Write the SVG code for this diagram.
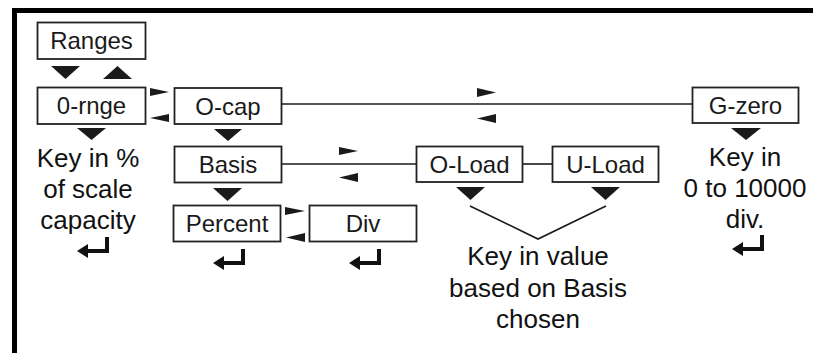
<svg xmlns="http://www.w3.org/2000/svg" width="813" height="353" viewBox="0 0 813 353">
<style>
.box{fill:#fff;stroke:#222;stroke-width:1.8}
.bt{font-family:"Liberation Sans",Arial,sans-serif;font-size:24px;fill:#1a1a1a;text-anchor:middle}
.lt{font-family:"Liberation Sans",Arial,sans-serif;font-size:26px;fill:#111;text-anchor:middle}
.ln{fill:none;stroke:#1a1a1a;stroke-width:1.6}
.tri{fill:#1a1a1a}
</style>
<defs>
<path id="ret" d="M0,14 L11,7 L11,12 L28,12 L28,0 L32,0 L32,16 L11,16 L11,21 Z" fill="#111"/>
</defs>
<rect x="14.5" y="10.5" width="900" height="500" fill="none" stroke="#000" stroke-width="5"/>

<g id="connectors">
<path class="ln" d="M282,104 H692"/>
<path class="ln" d="M282,164 H416"/>
<path class="ln" d="M523,164 H552"/>
<path class="ln" d="M470,206 L538,239 L606,206"/>
<polygon class="tri" points="51,66 80,66 65.5,79"/>
<polygon class="tri" points="103,79 132,79 117.5,66"/>
<polygon class="tri" points="150,88 169,92 150,96"/>
<polygon class="tri" points="169,114 150,118 169,122"/>
<polygon class="tri" points="77,128 106,128 91.5,140"/>
<polygon class="tri" points="214,129 242,129 228,141"/>
<polygon class="tri" points="477,88 496,92.5 477,97"/>
<polygon class="tri" points="496,114 477,118.5 496,123"/>
<polygon class="tri" points="339,147 358,151 339,155"/>
<polygon class="tri" points="358,173 339,177.5 358,182"/>
<polygon class="tri" points="213,188 242,188 227.5,201"/>
<polygon class="tri" points="285,207 305,211 285,215"/>
<polygon class="tri" points="305,233 286,237.5 305,242"/>
<polygon class="tri" points="456,187 485,187 470.5,200"/>
<polygon class="tri" points="591,187 620,187 605.5,200"/>
<polygon class="tri" points="731,128 761,128 746,140"/>
<use href="#ret" x="77" y="237"/>
<use href="#ret" x="213" y="249"/>
<use href="#ret" x="349" y="249"/>
<use href="#ret" x="732" y="235"/>
</g>

<g id="ranges"><rect class="box" x="37.5" y="22.5" width="108" height="36.5"/><text class="bt" x="91.5" y="49">Ranges</text></g>
<g id="zero-range"><rect class="box" x="37.5" y="87.5" width="108" height="36.5"/><text class="bt" x="91.5" y="114">0-rnge</text></g>
<g id="o-cap"><rect class="box" x="174.5" y="88" width="107" height="36"/><text class="bt" x="228" y="114.5">O-cap</text></g>
<g id="basis"><rect class="box" x="174.5" y="146.5" width="107" height="36"/><text class="bt" x="228" y="173">Basis</text></g>
<g id="percent"><rect class="box" x="173.5" y="205.5" width="107" height="36"/><text class="bt" x="227" y="232">Percent</text></g>
<g id="div"><rect class="box" x="309.5" y="205.5" width="107" height="36"/><text class="bt" x="363" y="232">Div</text></g>
<g id="o-load"><rect class="box" x="416.5" y="146.5" width="106" height="35.5"/><text class="bt" x="469.5" y="172.5">O-Load</text></g>
<g id="u-load"><rect class="box" x="552.5" y="146.5" width="106" height="35.5"/><text class="bt" x="605.5" y="172.5">U-Load</text></g>
<g id="g-zero"><rect class="box" x="692.5" y="87.5" width="106" height="35.5"/><text class="bt" x="745.5" y="113.5">G-zero</text></g>

<g id="note-range">
<text class="lt" x="88" y="167">Key in %</text>
<text class="lt" x="88" y="198">of scale</text>
<text class="lt" x="88" y="229">capacity</text>
</g>
<g id="note-load">
<text class="lt" x="538" y="265">Key in value</text>
<text class="lt" x="538" y="297">based on Basis</text>
<text class="lt" x="538" y="328">chosen</text>
</g>
<g id="note-gzero">
<text class="lt" x="745" y="166">Key in</text>
<text class="lt" x="745" y="197">0 to 10000</text>
<text class="lt" x="745" y="228">div.</text>
</g>
</svg>
